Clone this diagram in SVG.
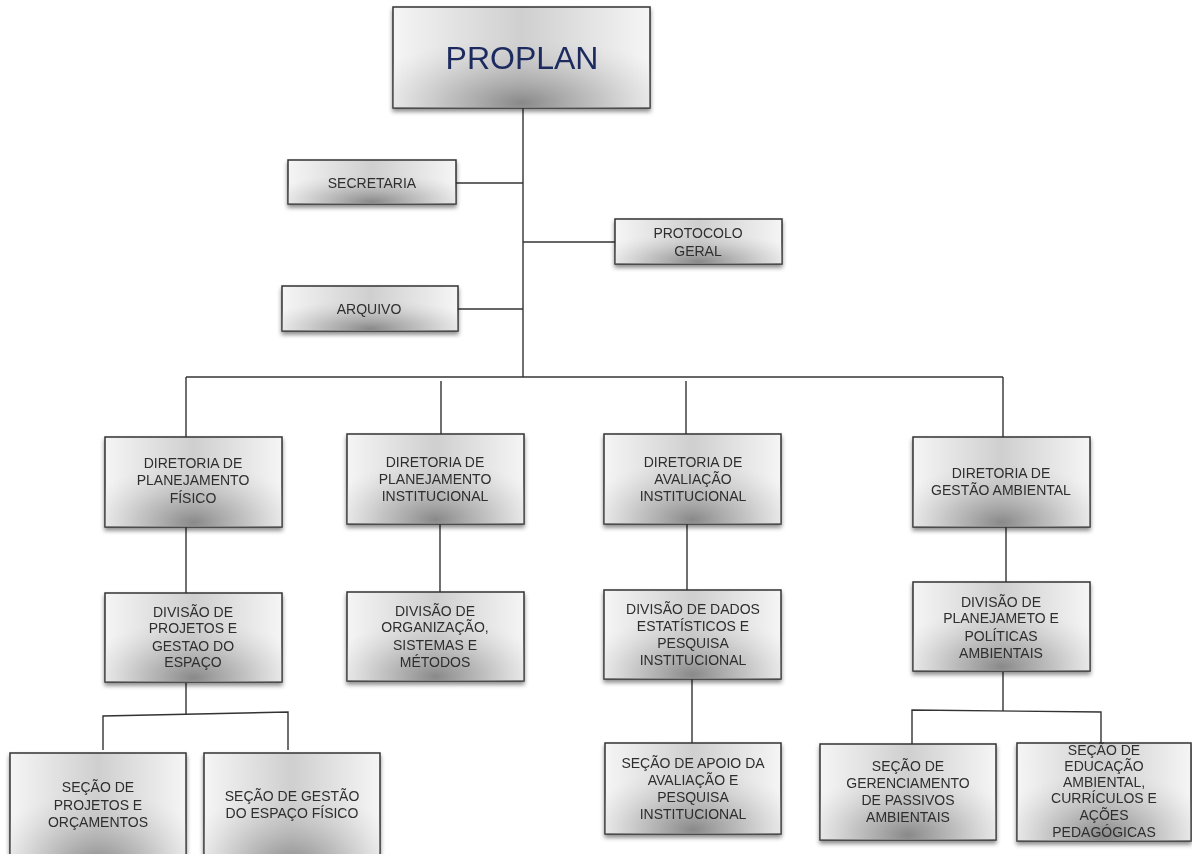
<svg xmlns="http://www.w3.org/2000/svg" width="1192" height="854" viewBox="0 0 1192 854">
<defs>
<linearGradient id="gh" x1="0" y1="0" x2="1" y2="0">
<stop offset="0" stop-color="#f5f5f5"/>
<stop offset="0.5" stop-color="#cfcfcf"/>
<stop offset="1" stop-color="#f5f5f5"/>
</linearGradient>
<radialGradient id="gr" cx="0.5" cy="0.95" r="0.65" fx="0.5" fy="0.95">
<stop offset="0" stop-color="#858585" stop-opacity="0.95"/>
<stop offset="0.45" stop-color="#aaaaaa" stop-opacity="0.6"/>
<stop offset="1" stop-color="#d0d0d0" stop-opacity="0"/>
</radialGradient>
<filter id="sh" x="-10%" y="-10%" width="120%" height="130%">
<feDropShadow dx="0" dy="3" stdDeviation="2" flood-color="#000" flood-opacity="0.45"/>
</filter>
</defs>
<style>
.b{fill:url(#gh);stroke:#333;stroke-width:1.5}
.o{fill:url(#gr);stroke:none}
.t{font-family:"Liberation Sans",Arial,sans-serif;font-size:14px;fill:#2e2e2e;text-anchor:middle}
.big{font-family:"Liberation Sans",Arial,sans-serif;font-size:32px;fill:#1c2b5e;text-anchor:middle}
.c{fill:none;stroke:#333;stroke-width:1.4}
</style>
<rect width="1192" height="854" fill="#fff"/>
<g id="connectors">
<path class="c" d="M523 108V377"/>
<path class="c" d="M456 183H523"/>
<path class="c" d="M523 242H615"/>
<path class="c" d="M458 309H523"/>
<path class="c" d="M186 377H1003"/>
<path class="c" d="M186 377V437"/>
<path class="c" d="M441 381V434"/>
<path class="c" d="M686 381V434"/>
<path class="c" d="M1003 377V437"/>
<path class="c" d="M186 527V593"/>
<path class="c" d="M440 524V592"/>
<path class="c" d="M687 524V590"/>
<path class="c" d="M1006 527V582"/>
<path class="c" d="M186 683V714"/>
<path class="c" d="M103 750V716L288 712V750"/>
<path class="c" d="M692 679V743"/>
<path class="c" d="M1003 672V711"/>
<path class="c" d="M912 744V710L1101 712V744"/>
</g>
<g id="proplan" filter="url(#sh)"><rect class="b" x="393" y="7" width="257" height="101"/><rect class="o" x="393" y="7" width="257" height="101"/><text class="big" x="522" y="69">PROPLAN</text></g>
<g id="secretaria" filter="url(#sh)"><rect class="b" x="288" y="160" width="168" height="44"/><rect class="o" x="288" y="160" width="168" height="44"/><text class="t" x="372" y="188">SECRETARIA</text></g>
<g id="protocolo" filter="url(#sh)"><rect class="b" x="615" y="219" width="167" height="45"/><rect class="o" x="615" y="219" width="167" height="45"/><text class="t" x="698" y="238">PROTOCOLO</text><text class="t" x="698" y="256">GERAL</text></g>
<g id="arquivo" filter="url(#sh)"><rect class="b" x="282" y="286" width="176" height="45"/><rect class="o" x="282" y="286" width="176" height="45"/><text class="t" x="369" y="314">ARQUIVO</text></g>
<g id="dir-fisico" filter="url(#sh)"><rect class="b" x="105" y="437" width="177" height="90"/><rect class="o" x="105" y="437" width="177" height="90"/><text class="t" x="193" y="468">DIRETORIA DE</text><text class="t" x="193" y="485">PLANEJAMENTO</text><text class="t" x="193" y="503">FÍSICO</text></g>
<g id="dir-institucional" filter="url(#sh)"><rect class="b" x="347" y="434" width="177" height="90"/><rect class="o" x="347" y="434" width="177" height="90"/><text class="t" x="435" y="467">DIRETORIA DE</text><text class="t" x="435" y="484">PLANEJAMENTO</text><text class="t" x="435" y="501">INSTITUCIONAL</text></g>
<g id="dir-avaliacao" filter="url(#sh)"><rect class="b" x="604" y="434" width="177" height="90"/><rect class="o" x="604" y="434" width="177" height="90"/><text class="t" x="693" y="467">DIRETORIA DE</text><text class="t" x="693" y="484">AVALIAÇÃO</text><text class="t" x="693" y="501">INSTITUCIONAL</text></g>
<g id="dir-ambiental" filter="url(#sh)"><rect class="b" x="913" y="437" width="177" height="90"/><rect class="o" x="913" y="437" width="177" height="90"/><text class="t" x="1001" y="478">DIRETORIA DE</text><text class="t" x="1001" y="495">GESTÃO AMBIENTAL</text></g>
<g id="div-projetos" filter="url(#sh)"><rect class="b" x="105" y="593" width="177" height="89"/><rect class="o" x="105" y="593" width="177" height="89"/><text class="t" x="193" y="617">DIVISÃO DE</text><text class="t" x="193" y="633">PROJETOS E</text><text class="t" x="193" y="651">GESTAO DO</text><text class="t" x="193" y="667">ESPAÇO</text></g>
<g id="div-organizacao" filter="url(#sh)"><rect class="b" x="347" y="592" width="177" height="89"/><rect class="o" x="347" y="592" width="177" height="89"/><text class="t" x="435" y="616">DIVISÃO DE</text><text class="t" x="435" y="632">ORGANIZAÇÃO,</text><text class="t" x="435" y="650">SISTEMAS E</text><text class="t" x="435" y="667">MÉTODOS</text></g>
<g id="div-dados" filter="url(#sh)"><rect class="b" x="604" y="590" width="177" height="89"/><rect class="o" x="604" y="590" width="177" height="89"/><text class="t" x="693" y="614">DIVISÃO DE DADOS</text><text class="t" x="693" y="631">ESTATÍSTICOS  E</text><text class="t" x="693" y="648">PESQUISA</text><text class="t" x="693" y="665">INSTITUCIONAL</text></g>
<g id="div-planejameto" filter="url(#sh)"><rect class="b" x="913" y="582" width="177" height="89"/><rect class="o" x="913" y="582" width="177" height="89"/><text class="t" x="1001" y="607">DIVISÃO DE</text><text class="t" x="1001" y="623">PLANEJAMETO E</text><text class="t" x="1001" y="641">POLÍTICAS</text><text class="t" x="1001" y="658">AMBIENTAIS</text></g>
<g id="sec-projetos" filter="url(#sh)"><rect class="b" x="10" y="753" width="176" height="120"/><rect class="o" x="10" y="753" width="176" height="120"/><text class="t" x="98" y="792">SEÇÃO DE</text><text class="t" x="98" y="810">PROJETOS E</text><text class="t" x="98" y="827">ORÇAMENTOS</text></g>
<g id="sec-gestao" filter="url(#sh)"><rect class="b" x="204" y="753" width="176" height="120"/><rect class="o" x="204" y="753" width="176" height="120"/><text class="t" x="292" y="801">SEÇÃO DE GESTÃO</text><text class="t" x="292" y="818">DO ESPAÇO FÍSICO</text></g>
<g id="sec-apoio" filter="url(#sh)"><rect class="b" x="605" y="743" width="176" height="91"/><rect class="o" x="605" y="743" width="176" height="91"/><text class="t" x="693" y="768">SEÇÃO DE APOIO DA</text><text class="t" x="693" y="785">AVALIAÇÃO E</text><text class="t" x="693" y="802">PESQUISA</text><text class="t" x="693" y="819">INSTITUCIONAL</text></g>
<g id="sec-passivos" filter="url(#sh)"><rect class="b" x="820" y="744" width="176" height="96"/><rect class="o" x="820" y="744" width="176" height="96"/><text class="t" x="908" y="771">SEÇÃO DE</text><text class="t" x="908" y="788">GERENCIAMENTO</text><text class="t" x="908" y="805">DE PASSIVOS</text><text class="t" x="908" y="822">AMBIENTAIS</text></g>
<g id="sec-educacao" filter="url(#sh)"><rect class="b" x="1017" y="743" width="174" height="98"/><rect class="o" x="1017" y="743" width="174" height="98"/><text class="t" x="1104" y="755">SEÇÃO DE</text><text class="t" x="1104" y="771">EDUCAÇÃO</text><text class="t" x="1104" y="787">AMBIENTAL,</text><text class="t" x="1104" y="803">CURRÍCULOS E</text><text class="t" x="1104" y="820">AÇÕES</text><text class="t" x="1104" y="837">PEDAGÓGICAS</text></g>
</svg>
